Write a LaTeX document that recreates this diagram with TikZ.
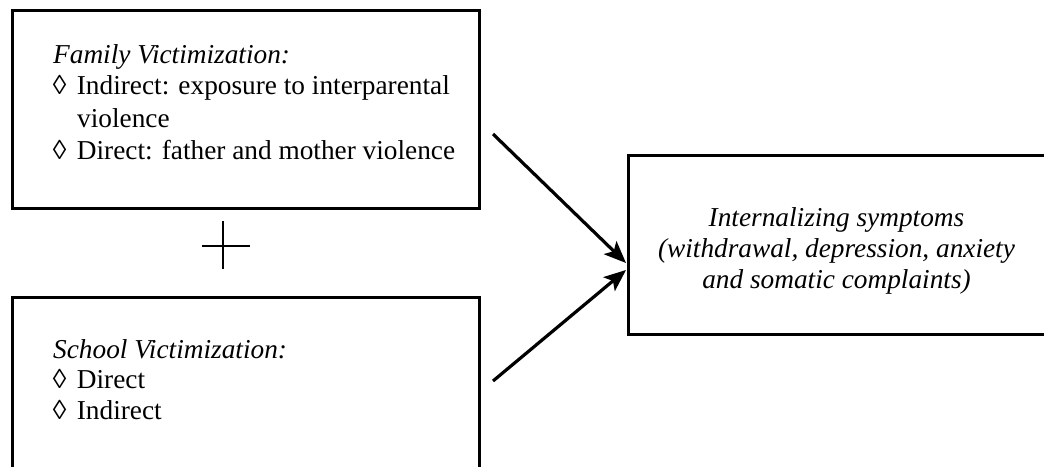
\documentclass[tikz,border=0pt]{standalone}
\usepackage{fontspec}
\setmainfont{Liberation Serif}
\usetikzlibrary{arrows.meta}
\tikzset{
  box/.style={draw=black, line width=2.6pt, rectangle, inner sep=0pt, anchor=north west},
  txt/.style={inner sep=0pt, anchor=base west, font=\fontsize{27.3}{32}\selectfont},
  ctxt/.style={inner sep=0pt, anchor=base, font=\fontsize{27.3}{32}\selectfont\itshape},
  arr/.style={line width=3.2pt, -{Stealth[length=22pt,width=18pt,inset=5pt]}},
  plusline/.style={line width=2.4pt}
}
\begin{document}
\begin{tikzpicture}[x=1pt,y=-1pt]
\useasboundingbox (0,0) rectangle (1044,466);
\clip (0,0) rectangle (1044,466);
\fill[white] (0,0) rectangle (1044,466);
% boxes
\node[box, minimum width=467pt, minimum height=198pt] (fam) at (11,9) {};
\node[box, minimum width=467pt, minimum height=250pt] (sch) at (11,296) {};
\node[box, minimum width=419pt, minimum height=179pt] (int) at (627,154) {};
% family text
\node[txt, font=\fontsize{27.3}{32}\selectfont\itshape] (f0) at (53,63) {Family Victimization:};
\node[txt] (f1d) at (52.7,94) {◊};
\node[txt] (f1) at (76.7,94) {Indirect: exposure to interparental};
\node[txt] (f1b) at (77,127) {violence};
\node[txt] (f2d) at (52.7,159) {◊};
\node[txt] (f2) at (76.7,159) {Direct: father and mother violence};
% school text
\node[txt, font=\fontsize{27.3}{32}\selectfont\itshape] (s0) at (53,358) {School Victimization:};
\node[txt] (s1d) at (52.7,388) {◊};
\node[txt] (s1) at (76.7,388) {Direct};
\node[txt] (s2d) at (52.7,419) {◊};
\node[txt] (s2) at (76.7,419) {Indirect};
% internalizing text
\node[ctxt] (i1) at (836.5,226) {Internalizing symptoms};
\node[ctxt] (i2) at (836.5,257) {(withdrawal, depression, anxiety};
\node[ctxt] (i3) at (836.5,288) {and somatic complaints)};
% plus sign
\coordinate (pc) at (223,246);
\draw[plusline] ([xshift=-21pt]pc) -- ([xshift=27pt]pc);
\draw[plusline] ([yshift=-23pt]pc) -- ([yshift=25pt]pc);
% arrows
\coordinate (a1) at (493,134);
\coordinate (a2) at (493,381);
\coordinate (tip1) at (626,263);
\coordinate (tip2) at (626,270);
\draw[arr] (a1) -- (tip1);
\draw[arr] (a2) -- (tip2);
\end{tikzpicture}
\end{document}
